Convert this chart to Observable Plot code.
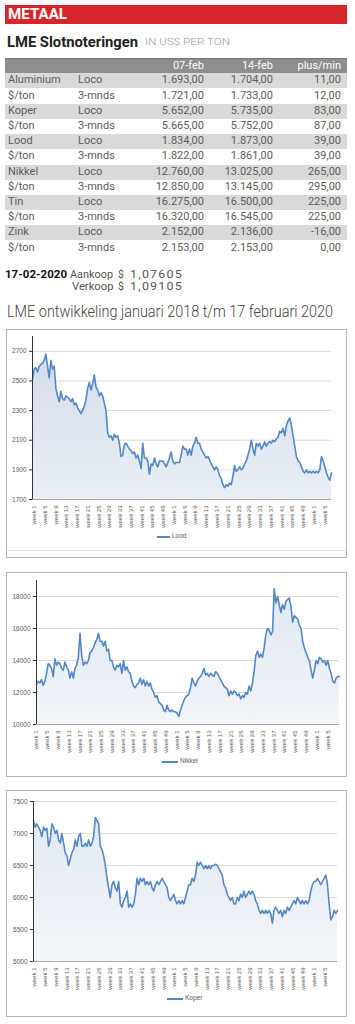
<!DOCTYPE html>
<html><head><meta charset="utf-8">
<script src="https://cdn.jsdelivr.net/npm/d3@7"></script>
<script src="https://cdn.jsdelivr.net/npm/@observablehq/plot@0.6"></script>
<style>
body{margin:0;background:#fff;}
#page{position:relative;width:355px;height:1024px;overflow:hidden;font-family:Roboto,"Noto Sans",sans-serif;}
#page div{white-space:nowrap;}
</style></head><body><div id="page"></div>
<script>
// ---------- table data ----------
const tableHeaders = ["", "", "07-feb", "14-feb", "plus/min"];
const metals = ["Aluminium","$/ton","Koper","$/ton","Lood","$/ton","Nikkel","$/ton","Tin","$/ton","Zink","$/ton"];
const terms = ["Loco","3-mnds","Loco","3-mnds","Loco","3-mnds","Loco","3-mnds","Loco","3-mnds","Loco","3-mnds"];
const feb07 = ["1.693,00","1.721,00","5.652,00","5.665,00","1.834,00","1.822,00","12.760,00","12.850,00","16.275,00","16.320,00","2.152,00","2.153,00"];
const feb14 = ["1.704,00","1.733,00","5.735,00","5.752,00","1.873,00","1.861,00","13.025,00","13.145,00","16.500,00","16.545,00","2.136,00","2.153,00"];
const plusMin = ["11,00","12,00","83,00","87,00","39,00","39,00","265,00","295,00","225,00","225,00","-16,00","0,00"];
const rateDate = "17-02-2020";
const rateLabels = ["Aankoop", "Verkoop"];
const rateValues = ["1,07605", "1,09105"];

// ---------- chart data (samples every ~3 trading days, week index 0 = week 1 2018) ----------
const SAMPLE_STEP = 0.621; // weeks between samples
const weekTickLabels = ["week 1","week 5","week 9","week 13","week 17","week 21","week 25","week 29","week 33","week 37","week 41","week 45","week 49",
  "week 1","week 5","week 9","week 13","week 17","week 21","week 25","week 29","week 33","week 37","week 41","week 45","week 49",
  "week 1","week 5"];

const loodStart = -0.62;
const loodValues = [2510,2580,2590,2560,2600,2610,2620,2640,2680,2600,2520,2640,2580,2600,2450,2400,2360,2430,2380,2370,
2400,2390,2380,2360,2380,2340,2350,2320,2300,2280,2300,2330,2370,2450,2490,2440,2480,2540,2460,2440,
2400,2420,2400,2350,2300,2150,2120,2130,2100,2140,2120,2130,2080,1990,2000,2070,2080,2060,2040,2030,
2010,2020,1980,2000,1960,1910,2080,1980,1980,1960,1870,1940,1930,1980,1940,1920,1960,1960,1960,1940,
1920,1950,1980,2020,1960,1940,1950,1950,1950,2000,2060,2040,2040,2000,2040,2000,2060,2080,2120,2080,
2080,2040,2020,2000,1980,1990,1970,1940,1920,1900,1920,1900,1860,1840,1800,1780,1800,1790,1810,1800,
1860,1930,1890,1900,1920,1900,1910,1940,1960,2000,2040,2100,2040,2000,2080,2060,2080,2040,2060,2090,
2060,2080,2090,2080,2100,2090,2110,2120,2160,2150,2180,2130,2200,2230,2250,2200,2130,2060,1990,1960,
1950,1920,1890,1880,1900,1880,1890,1880,1890,1880,1890,1880,1900,1990,1960,1920,1880,1850,1830,1880];

const nikkelStart = 0;
const nikkelValues = [12500,12700,12600,12800,12450,12700,13200,13800,13700,13500,13000,14100,13700,13900,13800,13500,13400,13900,13600,13400,
12900,13300,12900,13500,13700,14200,15700,14300,13700,13900,13800,14000,14500,14600,14800,15100,15300,15700,15200,15200,
14900,15200,14600,14700,14000,14000,13600,13400,13700,13600,13800,13200,14000,13400,13600,13300,13200,12700,12400,12300,
12500,12600,12900,12500,12800,12400,12700,12400,12600,12200,12000,11700,11800,11400,11300,11200,10900,10800,11200,10900,
10800,10900,10800,
10800,10700,10500,10900,11200,11500,11700,11800,11900,12300,
12900,12600,12400,12700,12900,13000,13200,13500,13100,13200,
13000,13200,13100,13000,13300,13200,13000,12800,12600,12400,
12300,12200,11800,12100,11900,12100,12000,11800,11900,11600,
11800,11700,12000,11900,12400,12100,12600,13300,14300,14600,
14200,14400,14200,14800,15600,16000,15900,15600,15800,18500,
17600,18000,17500,17000,17500,17200,17700,17800,17900,17400,
16400,16800,16700,16600,16200,16000,15200,14800,14500,14200,
14000,13400,12900,13400,14000,13800,14200,14100,13900,14000,
13700,14000,13500,13200,12700,12600,12900,13000,13000];

const koperStart = -0.37;
const koperValues = [7200,7100,7150,7100,7050,6950,7100,7050,7080,6800,
6900,7150,7100,7000,7050,6900,6850,7000,6850,6700,
6650,6500,6600,6700,6750,6900,6800,6950,7000,6800,
6800,6850,6800,6900,6800,6850,6950,7250,7200,7150,
6800,6750,6650,6500,6300,6150,6000,6200,6250,6150,
6100,6250,5900,5850,5950,6000,6100,5850,5900,5850,
5900,6050,6300,6200,6300,6250,6300,6200,6250,6200,
6250,6150,6100,6200,6250,6200,6250,6300,6250,6200,
6150,6000,5950,6000,6050,
5950,5900,5950,5900,5950,5900,6000,6100,6200,6200,
6300,6250,6350,6550,6500,6550,6500,6450,6500,6450,
6500,6450,6500,6500,6520,6500,6450,6400,6350,6200,
6150,6050,6000,5950,6000,5900,5900,6000,5950,6050,
6000,6100,6000,6050,6100,6050,6100,6050,5950,5900,
5800,5750,5800,5750,5800,5750,5800,5750,5600,5800,
5850,5800,5750,5800,5700,5800,5750,5850,5800,5850,
5900,5950,5900,6000,5950,5900,5950,5900,5950,5900,
5950,6100,6200,6250,6250,6300,6250,6200,6250,6300,
6350,6200,5900,5650,5700,5800,5750,5800];

const loodTicks = [1700,1900,2100,2300,2500,2700];
const nikkelTicks = [10000,12000,14000,16000,18000];
const koperTicks = [5000,5500,6000,6500,7000,7500];

// ---------- helpers ----------
const page = document.getElementById("page");
function el(style, text){
  const e = document.createElement("div");
  e.style.position = "absolute";
  Object.assign(e.style, style);
  if (text != null) e.textContent = text;
  page.appendChild(e);
  return e;
}
function fit(e, w){
  e.style.display = "inline-block";
  const r = e.getBoundingClientRect().width;
  if (r > 0){ e.style.transformOrigin = "0 50%"; e.style.transform = `scaleX(${w / r})`; }
}

// ---------- header ----------
el({left:"5px", top:"5px", width:"342px", height:"19px", background:"#d7252c"});
fit(el({left:"8px", top:"5px", lineHeight:"19px", font:"700 15px Roboto", color:"#fff"}, "METAAL"), 59);
fit(el({left:"7px", top:"34px", lineHeight:"18px", font:"700 14px Roboto", color:"#222"}, "LME Slotnoteringen"), 131);
fit(el({left:"145px", top:"37px", lineHeight:"14px", font:"300 9px Roboto", color:"#999"}, "IN US$ PER TON"), 85);
el({left:"5px", top:"58px", width:"342px", height:"1px", background:"#777"});

// ---------- table ----------
const colLeft = [8, 78];
const colRight = [204, 273, 341];
el({left:"5px", top:"59px", width:"342px", height:"14.3px", background:"#8e8e8e"});
tableHeaders.forEach((h, j) => {
  if (!h) return;
  el({left:(colRight[j-2]-80)+"px", width:"80px", textAlign:"right", top:"59px", lineHeight:"14.3px", font:"400 11px Roboto", color:"#fff"}, h);
});
metals.forEach((m, i) => {
  const top = 73.3 + i * 15.2;
  if (i % 2 === 0) el({left:"5px", top:top+"px", width:"342px", height:"15.2px", background:"#d9d9d9"});
  const st = {top:top+"px", lineHeight:"15.2px", font:"400 11px Roboto", color:"#5c5c5c"};
  el({...st, left:colLeft[0]+"px"}, m);
  el({...st, left:colLeft[1]+"px"}, terms[i]);
  [feb07[i], feb14[i], plusMin[i]].forEach((v, j) => {
    el({...st, left:(colRight[j]-80)+"px", width:"80px", textAlign:"right"}, v);
  });
});

// ---------- exchange rate ----------
fit(el({left:"5px", top:"268px", lineHeight:"14px", font:"700 10.5px Roboto", color:"#111"}, rateDate), 62);
rateLabels.forEach((lab, i) => {
  const top = (268 + i * 11.7) + "px";
  const st = {top, lineHeight:"14px", font:"400 10.5px Roboto", color:"#555"};
  fit(el({...st, left:(i === 0 ? 70 : 71.7)+"px"}, lab), i === 0 ? 43 : 41.5);
  el({...st, left:"118px"}, "$");
  fit(el({...st, left:"130px", letterSpacing:"1px"}, rateValues[i]), 53);
});
fit(el({left:"7px", top:"302px", lineHeight:"20px", font:"300 16px Roboto", color:"#444"}, "LME ontwikkeling januari 2018 t/m 17 februari 2020"), 326);

// ---------- charts ----------
const tickPos = weekTickLabels.map((d, i) => i * 4);
const labelMap = new Map(tickPos.map((p, i) => [p, weekTickLabels[i]]));
const LINE = "#5387c5";

function drawChart(cfg){
  el({left:"6px", top:cfg.boxTop+"px", width:"341px", height:cfg.boxH+"px", border:"1px solid #b4b4b4", boxSizing:"border-box"});
  const data = cfg.values.map((v, i) => ({t: cfg.t0 + i * SAMPLE_STEP, v}));
  const tEnd = data[data.length - 1].t;
  const [y0, y1] = cfg.yDomain;
  const gid = "grad" + cfg.name;
  const svg = Plot.plot({
    width: 340, height: cfg.h,
    marginLeft: cfg.ml, marginRight: cfg.mr, marginTop: cfg.mt, marginBottom: cfg.mb,
    style: {fontFamily:"'Liberation Sans', Arial, sans-serif", fontSize:"6.5px", color:"#595959", background:"transparent", overflow:"visible"},
    x: {domain: [cfg.t0, tEnd]},
    y: {domain: cfg.yDomain},
    marks: [
      Plot.ruleY(cfg.yTicks, {stroke:"#dadada"}),
      Plot.areaY(data, {x:"t", y1: y0, y2:"v", fill:`url(#${gid})`}),
      Plot.ruleY([y0], {stroke:"#a8a8a8"}),
      Plot.lineY(data, {x:"t", y:"v", stroke:LINE, strokeWidth:1.6}),
      Plot.ruleX([cfg.t0], {y1:y0, y2:y1, stroke:"#333"}),
      Plot.axisY({ticks: cfg.yTicks, tickFormat: d => String(d), tickSize:3, tickPadding:3, label:null, stroke:"#333", fill:"#595959"}),
      Plot.axisX({ticks: tickPos, tickFormat: d => labelMap.get(d), tickRotate:-90, tickSize:0, tickPadding:6, label:null, fontSize:6, fill:"#595959"})
    ]
  });
  const ns = "http://www.w3.org/2000/svg";
  const defs = document.createElementNS(ns, "defs");
  defs.innerHTML = `<linearGradient id="${gid}" x1="0" y1="0" x2="0" y2="1"><stop offset="0" stop-color="${cfg.fillTop}"/><stop offset="1" stop-color="${cfg.fillBottom}"/></linearGradient>`;
  svg.insertBefore(defs, svg.firstChild);
  svg.style.position = "absolute";
  svg.style.left = "7px";
  svg.style.top = cfg.svgTop + "px";
  page.appendChild(svg);
  // legend
  el({left:cfg.legX+"px", top:(cfg.legY-1)+"px", width:cfg.legW+"px", height:"2px", background:LINE});
  el({left:(cfg.legX+cfg.legW+2)+"px", top:(cfg.legY-5)+"px", lineHeight:"10px", font:"400 6.5px 'Liberation Sans', Arial", color:"#595959"}, cfg.name);
}

drawChart({name:"Lood", values:loodValues, t0:loodStart, yDomain:[1700,2800], yTicks:loodTicks,
  boxTop:329, boxH:229, svgTop:330, h:228, ml:25, mr:16, mt:6, mb:59,
  fillTop:"#d2ddea", fillBottom:"#eaeff6", legX:157, legY:537, legW:13});
el({left:"7px", top:"550px", width:"339px", height:"1px", background:"#e4e4e4"});
drawChart({name:"Nikkel", values:nikkelValues, t0:nikkelStart, yDomain:[10000,19000], yTicks:nikkelTicks,
  boxTop:572, boxH:205, svgTop:572, h:205, ml:29, mr:8, mt:8, mb:53,
  fillTop:"#e0e8f2", fillBottom:"#f2f5f9", legX:162, legY:762, legW:16});
drawChart({name:"Koper", values:koperValues, t0:koperStart, yDomain:[5000,7500], yTicks:koperTicks,
  boxTop:790, boxH:227, svgTop:790, h:227, ml:26, mr:10, mt:11, mb:56,
  fillTop:"#e3eaf3", fillBottom:"#f3f6fa", legX:167, legY:999, legW:16});
</script>
</body></html>
